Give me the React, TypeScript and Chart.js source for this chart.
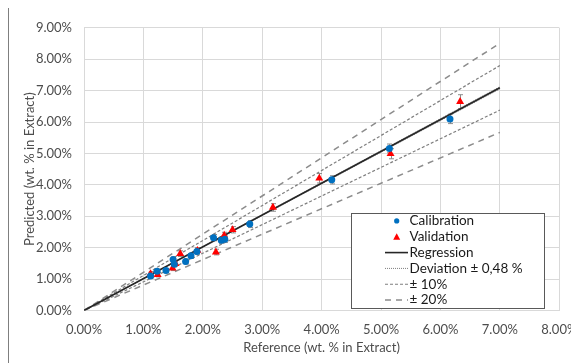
import React, { useEffect, useRef } from "react";
import { Chart, registerables } from "chart.js";

Chart.register(...registerables);

// ---- data (wt. % in extract) ----
const calibrationX = [1.12, 1.23, 1.38, 1.50, 1.52, 1.71, 1.80, 1.90, 2.18, 2.31, 2.37, 2.79, 4.17, 5.14, 6.16];
const calibrationY = [1.10, 1.25, 1.27, 1.62, 1.47, 1.56, 1.74, 1.88, 2.32, 2.24, 2.27, 2.75, 4.16, 5.16, 6.10];
const calibrationErr = [0.06, 0.07, 0.07, 0.08, 0.08, 0.08, 0.08, 0.09, 0.1, 0.1, 0.1, 0.11, 0.13, 0.14, 0.15];

const validationX = [1.12, 1.24, 1.49, 1.54, 1.62, 1.91, 2.22, 2.36, 2.50, 3.18, 3.96, 5.16, 6.33];
const validationY = [1.17, 1.14, 1.35, 1.49, 1.81, 1.91, 1.86, 2.39, 2.57, 3.28, 4.21, 4.99, 6.65];
const validationErr = [0.07, 0.07, 0.08, 0.08, 0.09, 0.09, 0.09, 0.1, 0.1, 0.12, 0.15, 0.16, 0.22];

const lineX = [0, 7];
const regressionY = [0, 7.09];
const deviationUpY = [0, 7.125];
const deviationLoY = [0, 7.055];
const plus10Y = [0, 7.80];
const minus10Y = [0, 6.38];
const plus20Y = [0, 8.51];
const minus20Y = [0, 5.67];

const xTicksMin = 0, xTicksMax = 8;
const yTicksMin = 0, yTicksMax = 9;

// legend box corners in data units
const legendLeftX = 4.49, legendRightX = 7.74;
const legendTopY = 3.105, legendBottomY = 0.093;

const FONT = "Lato, 'Open Sans', sans-serif";
const BLUE = "#0070C0";
const RED = "#FF0000";
const TEXT = "#4d4d4d";

const pts = (xs: number[], ys: number[]) => xs.map((x, i) => ({ x, y: ys[i] }));

const errorBarPlugin = {
  id: "errorBars",
  beforeDatasetsDraw(chart: any) {
    const ctx = chart.ctx;
    const xs = chart.scales.x;
    const ys = chart.scales.y;
    const sets = [
      { x: calibrationX, y: calibrationY, e: calibrationErr },
      { x: validationX, y: validationY, e: validationErr },
    ];
    ctx.save();
    ctx.strokeStyle = "#8c8c8c";
    ctx.lineWidth = 1;
    sets.forEach((s) => {
      s.x.forEach((xv, i) => {
        const px = Math.round(xs.getPixelForValue(xv)) + 0.5;
        const top = ys.getPixelForValue(s.y[i] + s.e[i]);
        const bot = ys.getPixelForValue(s.y[i] - s.e[i]);
        ctx.beginPath();
        ctx.moveTo(px, top);
        ctx.lineTo(px, bot);
        ctx.moveTo(px - 2.5, top);
        ctx.lineTo(px + 2.5, top);
        ctx.moveTo(px - 2.5, bot);
        ctx.lineTo(px + 2.5, bot);
        ctx.stroke();
      });
    });
    ctx.restore();
  },
};

const boxLegendPlugin = {
  id: "boxLegend",
  afterDraw(chart: any) {
    const ctx = chart.ctx;
    const xs = chart.scales.x;
    const ys = chart.scales.y;
    const left = Math.round(xs.getPixelForValue(legendLeftX));
    const right = Math.round(xs.getPixelForValue(legendRightX));
    const top = Math.round(ys.getPixelForValue(legendTopY));
    const bottom = Math.round(ys.getPixelForValue(legendBottomY));
    const w = right - left;
    const h = bottom - top;
    ctx.save();
    ctx.fillStyle = "#ffffff";
    ctx.fillRect(left, top, w, h);
    ctx.strokeStyle = "#595959";
    ctx.lineWidth = 1;
    ctx.strokeRect(left + 0.5, top + 0.5, w, h);
    const items = chart.data.datasets.filter((d: any) => d.legendText);
    const step = h / items.length;
    ctx.font = `13.5px ${FONT}`;
    ctx.textBaseline = "middle";
    ctx.textAlign = "left";
    items.forEach((d: any, i: number) => {
      const cy = top + step * (i + 0.5);
      const mx = left + 45.7;
      if (d.pointStyle === "circle" && !d.showLine) {
        ctx.fillStyle = d.backgroundColor;
        ctx.beginPath();
        ctx.arc(mx, cy, 2.6, 0, Math.PI * 2);
        ctx.fill();
      } else if (d.pointStyle === "triangle") {
        ctx.fillStyle = d.backgroundColor;
        ctx.beginPath();
        ctx.moveTo(mx, cy - 3.5);
        ctx.lineTo(mx + 3.5, cy + 3);
        ctx.lineTo(mx - 3.5, cy + 3);
        ctx.closePath();
        ctx.fill();
      } else {
        ctx.strokeStyle = d.borderColor;
        ctx.lineWidth = d.borderWidth;
        ctx.setLineDash(d.borderDash || []);
        ctx.beginPath();
        ctx.moveTo(left + 34, cy);
        ctx.lineTo(left + 57, cy);
        ctx.stroke();
        ctx.setLineDash([]);
      }
      ctx.fillStyle = "#1a1a1a";
      ctx.fillText(d.legendText, left + 58.5, cy);
    });
    ctx.restore();
  },
};

export default function App() {
  const ref = useRef<HTMLCanvasElement>(null);

  useEffect(() => {
    const canvas = ref.current;
    if (!canvas) return;
    const lineDs = (label: string | null, ys: number[], color: string, width: number, dash: number[]) => ({
      type: "line",
      legendText: label,
      data: pts(lineX, ys),
      borderColor: color,
      borderWidth: width,
      borderDash: dash,
      pointRadius: 0,
      showLine: true,
      fill: false,
      order: 2,
    });
    const chart = new Chart(canvas, {
      type: "scatter",
      data: {
        datasets: [
          {
            legendText: "Calibration",
            data: pts(calibrationX, calibrationY),
            backgroundColor: BLUE,
            borderColor: BLUE,
            borderWidth: 0,
            pointStyle: "circle",
            pointRadius: 3.5,
            order: 0,
          },
          {
            legendText: "Validation",
            data: pts(validationX, validationY),
            backgroundColor: RED,
            borderColor: RED,
            borderWidth: 0,
            pointStyle: "triangle",
            pointRadius: 4.6,
            order: 0,
          },
          lineDs("Regression", regressionY, "#262626", 1.6, []),
          lineDs("Deviation ± 0,48 %", deviationUpY, "#7f7f7f", 1, [1, 1]),
          lineDs(null, deviationLoY, "#7f7f7f", 1, [1, 1]),
          lineDs("± 10%", plus10Y, "#7f7f7f", 1.2, [3, 2]),
          lineDs(null, minus10Y, "#7f7f7f", 1.2, [3, 2]),
          lineDs("± 20%", plus20Y, "#8c8c8c", 1.5, [6, 5]),
          lineDs(null, minus20Y, "#8c8c8c", 1.5, [6, 5]),
        ] as any,
      },
      options: {
        animation: false,
        responsive: false,
        devicePixelRatio: 1,
        layout: { padding: { left: 0, top: 12, right: 49.7, bottom: 17.5 } },
        plugins: { legend: { display: false }, tooltip: { enabled: false } },
        scales: {
          x: {
            type: "linear",
            min: xTicksMin,
            max: xTicksMax,
            afterFit: (s: any) => { s.height = 60; },
            ticks: {
              stepSize: 1,
              padding: 12,
              color: TEXT,
              font: { family: FONT, size: 13 },
              callback: (v: any) => Number(v).toFixed(2) + "%",
            },
            grid: { color: "#d9d9d9", drawTicks: false },
            border: { color: "#d9d9d9" },
            title: {
              display: true,
              text: "Reference (wt. % in Extract)",
              color: TEXT,
              font: { family: FONT, size: 13 },
              padding: { top: 0, bottom: 14.7 },
            },
          },
          y: {
            type: "linear",
            min: yTicksMin,
            max: yTicksMax,
            afterFit: (s: any) => { s.width = 75; },
            ticks: {
              stepSize: 1,
              padding: 12,
              color: TEXT,
              font: { family: FONT, size: 13 },
              callback: (v: any) => Number(v).toFixed(2) + "%",
            },
            grid: { color: "#d9d9d9", drawTicks: false },
            border: { color: "#d9d9d9" },
            title: {
              display: true,
              text: "Predicted (wt. % in Extract)",
              color: TEXT,
              font: { family: FONT, size: 13 },
              padding: { top: 13.2, bottom: 0 },
            },
          },
        },
      } as any,
      plugins: [errorBarPlugin, boxLegendPlugin],
    });
    return () => chart.destroy();
  }, []);

  return (
    <div style={{ width: 600, height: 380, marginTop: -1, border: "1px solid #7f7f7f", background: "#fff" }}>
      <canvas ref={ref} width={600} height={380} style={{ display: "block", width: 600, height: 380 }} />
    </div>
  );
}
